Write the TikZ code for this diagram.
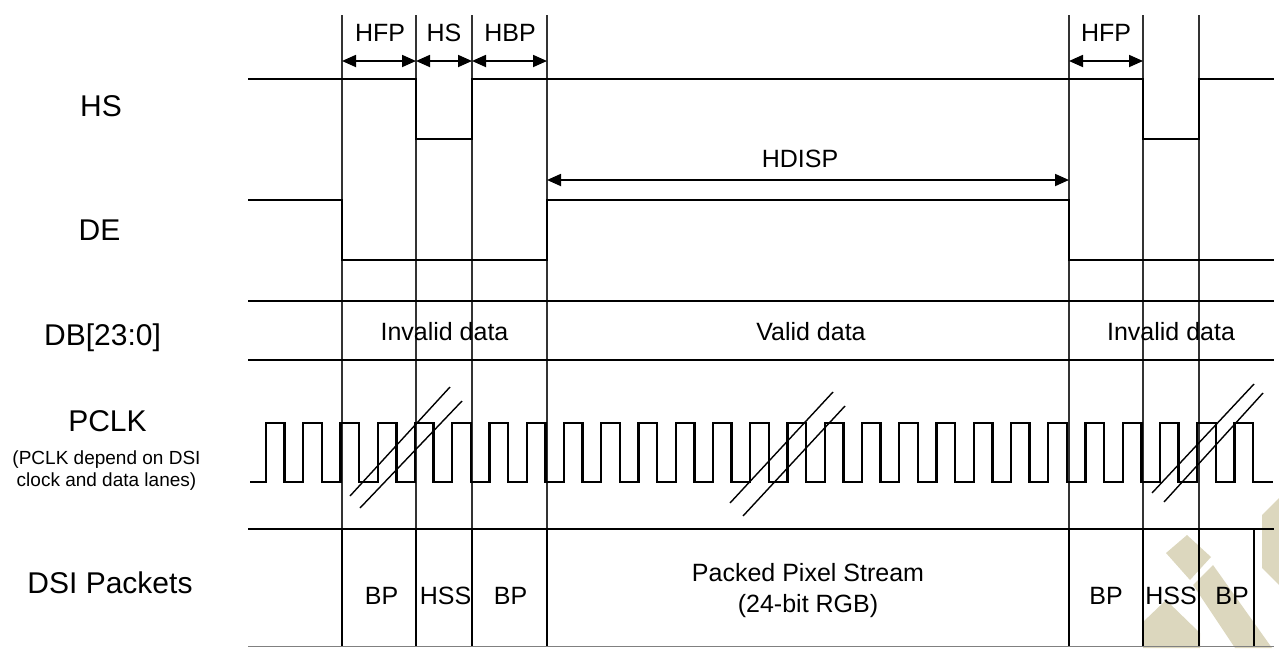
\documentclass[tikz,border=0pt]{standalone}
\usepackage{fontspec}
\setmainfont{Liberation Sans}
\usetikzlibrary{arrows.meta,calc}
\definecolor{wm}{HTML}{DCD7BE}
\begin{document}
\begin{tikzpicture}[x=1pt,y=-1pt,
  sig/.style={line width=2.4pt, line join=miter},
  gridline/.style={line width=1.3pt, black!80},
  pktline/.style={line width=2.2pt},
  dim/.style={line width=1.8pt, {Triangle[length=14pt,width=12pt]}-{Triangle[length=14pt,width=12pt]}},
  lbl/.style={font=\fontsize{30}{32}\selectfont, anchor=base, inner sep=0pt},
  sml/.style={font=\fontsize{25}{27}\selectfont, anchor=base, inner sep=0pt},
  note/.style={font=\fontsize{19}{22}\selectfont, anchor=base, inner sep=0pt},
  brk/.style={line width=1.4pt}]
\useasboundingbox (0,0) rectangle (1279,648);

% watermark
\fill[wm] (1187,535) -- (1211,557) -- (1190,580) -- (1166,553) -- cycle;
\fill[wm] (1193,585) -- (1213,565) -- (1272,648) -- (1235,648) -- cycle;
\fill[wm] (1143,622) -- (1166,600) -- (1200,633) -- (1200,648) -- (1143,648) -- cycle;
\fill[wm] (1279,498) -- (1279,585) -- (1262,568) -- (1262,515) -- cycle;

% grid lines
\foreach \x/\n in {342/a,416/b,472/c,547/d,1069/e,1143/f,1199/g}{
  \coordinate (t\n) at (\x,15);
  \coordinate (m\n) at (\x,529);
  \coordinate (b\n) at (\x,646);
  \draw[gridline] (t\n) -- (m\n);
  \draw[pktline] (m\n) -- (b\n);
}
\coordinate (mh) at (1254,529);
\coordinate (bh) at (1254,646);
\draw[pktline] (mh) -- (bh);

% timing dimension arrows
\draw[dim] ($(ta)+(0,46)$) -- ($(tb)+(0,46)$);
\draw[dim] ($(tb)+(0,46)$) -- ($(tc)+(0,46)$);
\draw[dim] ($(tc)+(0,46)$) -- ($(td)+(0,46)$);
\draw[dim] ($(te)+(0,46)$) -- ($(tf)+(0,46)$);
\draw[dim] ($(td)+(0,165)$) -- ($(te)+(0,165)$);

\node[sml] (lhfp) at (380,41.5) {HFP};
\node[sml] (lhs) at (444,41.5) {HS};
\node[sml] (lhbp) at (510,41.5) {HBP};
\node[sml] (lhfp2) at (1106,41.5) {HFP};
\node[sml] (lhdisp) at (800,167.5) {HDISP};

% signals
\draw[sig] (248,79) -- (416,79) -- (416,139) -- (472,139) -- (472,79) -- (1143,79) -- (1143,139) -- (1199,139) -- (1199,79) -- (1274,79);
\draw[sig] (248,200) -- (342,200) -- (342,260) -- (547,260) -- (547,200) -- (1069,200) -- (1069,260) -- (1274,260);
\draw[sig] (248,301) -- (1274,301);
\draw[sig] (248,360) -- (1274,360);
\draw[sig] (250,482) foreach \k in {0,...,26}{ -- ({266+37.25*\k},482) -- ({266+37.25*\k},423) -- ({284.6+37.25*\k},423) -- ({284.6+37.25*\k},482)} -- (1273,482);
\draw[sig] (248,529) -- (1274,529);
\draw[line width=0.8pt, black!50] (248,646.5) -- (1274,646.5);

% break marks
\draw[brk] (350,496) -- (450,387);
\draw[brk] (360,508) -- (462,401);
\draw[brk] (730,503) -- (833,392);
\draw[brk] (743,516) -- (845,406);
\draw[brk] (1152,493) -- (1254,384);
\draw[brk] (1164,502) -- (1263,393);

% row labels
\node[lbl] (nhs) at (101,116.5) {HS};
\node[lbl] (nde) at (99.5,240) {DE};
\node[lbl] (ndb) at (102.5,345) {DB[23:0]};
\node[lbl] (npclk) at (107.5,431.5) {PCLK};
\node[note] (npn1) at (106.5,464) {(PCLK depend on DSI};
\node[note] (npn2) at (106.5,486) {clock and data lanes)};
\node[lbl] (ndsi) at (110,593.5) {DSI Packets};

% data labels
\node[sml] (inv1) at (444.5,340) {Invalid data};
\node[sml] (val) at (811,340) {Valid data};
\node[sml] (inv2) at (1171,340) {Invalid data};

% packets
\node[sml] (p1) at (381.5,604) {BP};
\node[sml] (p2) at (445.5,604) {HSS};
\node[sml] (p3) at (510.5,604) {BP};
\node[sml] (p4) at (808,581) {Packed Pixel Stream};
\node[sml] (p5) at (808,612) {(24-bit RGB)};
\node[sml] (p6) at (1106,604) {BP};
\node[sml] (p7) at (1171,604) {HSS};
\node[sml] (p8) at (1232,604) {BP};
\end{tikzpicture}
\end{document}
